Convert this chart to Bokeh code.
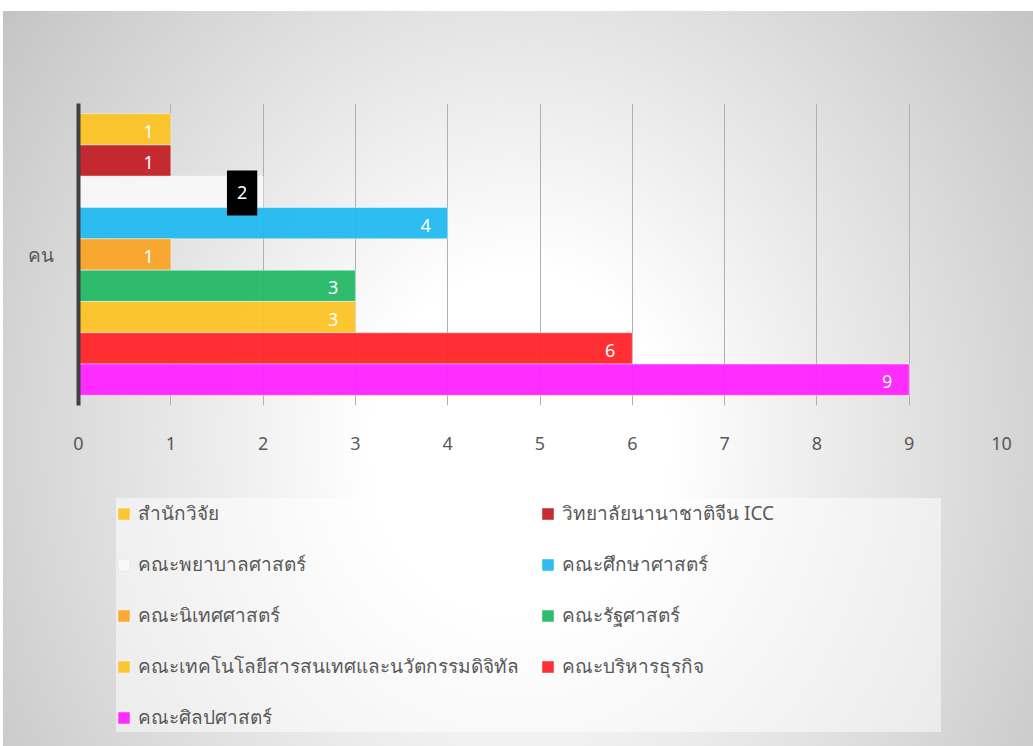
from bokeh.plotting import figure
from bokeh.layouts import column
from bokeh.models import (FactorRange, Range1d, Legend, LegendItem, FixedTicker,
                          ColumnDataSource)
from bokeh.transform import dodge
from bokeh.core.properties import value
from bokeh.embed import file_html
from bokeh.resources import INLINE

category = ["คน"]
series_names = [
    "สำนักวิจัย",
    "วิทยาลัยนานาชาติจีน ICC",
    "คณะพยาบาลศาสตร์",
    "คณะศึกษาศาสตร์",
    "คณะนิเทศศาสตร์",
    "คณะรัฐศาสตร์",
    "คณะเทคโนโลยีสารสนเทศและนวัตกรรมดิจิทัล",
    "คณะบริหารธุรกิจ",
    "คณะศิลปศาสตร์",
]
series_values = [1, 1, 2, 4, 1, 3, 3, 6, 9]
series_colors = ["#FBC325", "#C22026", "#F8F8F8", "#23B9EF", "#F9A326",
                 "#24B866", "#FBC325", "#FF2428", "#FF22FF"]
x_ticks = [0, 1, 2, 3, 4, 5, 6, 7, 8, 9, 10]

FONT = "Noto Sans"
TXT = "#595959"
GRAD = "radial-gradient(ellipse 743px 840px at 520px {cy}px, #ffffff 0%, #ffffff 20%, #b8b8b8 100%)"

# ---------------- main chart ----------------
p = figure(width=1033, height=478,
           x_range=Range1d(0, 10), y_range=FactorRange(factors=category),
           output_backend="svg", toolbar_location=None,
           min_border_left=78, min_border_right=32, min_border_top=103,
           min_border_bottom=73)
p.background_fill_alpha = 0
p.border_fill_alpha = 0
p.outline_line_color = None
p.styles = {"background": (
    "linear-gradient(#ffffff, #ffffff) 0 0 / 100% 11px no-repeat, "
    "linear-gradient(#ffffff, #ffffff) 0 0 / 3px 100% no-repeat, " + GRAD.format(cy=440))}

p.ygrid.grid_line_color = None
p.xgrid.grid_line_color = "#b0b0b0"
p.xgrid.grid_line_width = 1
p.xgrid.ticker = FixedTicker(ticks=x_ticks)

p.xaxis.ticker = FixedTicker(ticks=x_ticks)
p.xaxis.axis_line_color = None
p.xaxis.major_tick_line_color = None
p.xaxis.minor_tick_line_color = None
p.xaxis.major_tick_out = 0
p.xaxis.major_tick_in = 0
p.xaxis.major_label_standoff = 31
p.xaxis.major_label_text_font = FONT
p.xaxis.major_label_text_font_size = "18px"
p.xaxis.major_label_text_color = TXT

p.yaxis.axis_line_color = "#404040"
p.yaxis.axis_line_width = 4
p.yaxis.major_tick_line_color = None
p.yaxis.major_tick_out = 0
p.yaxis.major_label_standoff = 25
p.yaxis.major_label_text_font = FONT
p.yaxis.major_label_text_font_size = "19px"
p.yaxis.major_label_text_color = TXT

n = len(series_names)
bar_h = 0.9327 / n
label_specs = []
for i, (name, val, col) in enumerate(zip(series_names, series_values, series_colors)):
    off = (n - 1) / 2 * bar_h - i * bar_h
    src = ColumnDataSource(dict(y=category, v=[val], t=[str(val)]))
    p.hbar(y=dodge("y", off, range=p.y_range), right="v", left=0, height=bar_h,
           source=src, fill_color=col, fill_alpha=0.95,
           line_color="white", line_alpha=0.45, line_width=1)
    label_specs.append((i, off, src))

for i, off, src in label_specs:
    if i == 2:
        p.text(x="v", y=dodge("y", off, range=p.y_range), text="t", source=src,
               text_align="center", text_baseline="middle", x_offset=-21, y_offset=1,
               text_color="white", text_font=value(FONT), text_font_size="18px",
               background_fill_color="black", padding=(10, 16))
    else:
        p.text(x="v", y=dodge("y", off, range=p.y_range), text="t", source=src,
               text_align="right", text_baseline="middle", x_offset=-17, y_offset=2,
               text_color="white", text_font=value(FONT), text_font_size="18px")

# ---------------- legend strip ----------------
q = figure(width=1033, height=268, x_range=Range1d(0, 10),
           y_range=FactorRange(factors=category),
           output_backend="svg", toolbar_location=None,
           x_axis_location=None, y_axis_location=None,
           min_border=0)
q.background_fill_alpha = 0
q.border_fill_alpha = 0
q.outline_line_color = None
q.grid.visible = False
q.styles = {"background": (
    "linear-gradient(#ffffff, #ffffff) 0 0 / 3px 100% no-repeat, " + GRAD.format(cy=440 - 478))}

legend_renderers = []
for name, val, col in zip(series_names, series_values, series_colors):
    src = ColumnDataSource(dict(y=category, v=[val]))
    r = q.hbar(y="y", right="v", left=0, height=0.5, source=src,
               fill_color=col, fill_alpha=0.95,
               line_color="#dddddd" if col == "#F8F8F8" else "white",
               line_alpha=0.45, line_width=1, visible=False)
    legend_renderers.append(LegendItem(label=name, renderers=[r]))

# legend fills column by column: put even items in column 1, odd in column 2
order = list(range(0, n, 2)) + list(range(1, n, 2))
legend = Legend(items=[legend_renderers[k] for k in order], ncols=2,
                location=(38, 14), margin=0)
legend.label_text_font = FONT
legend.label_text_font_size = "19px"
legend.label_text_color = TXT
legend.glyph_width = 15
legend.glyph_height = 15
legend.label_standoff = 7
legend.label_width = 379
legend.label_height = 24
legend.spacing = 21
legend.padding = 18
legend.background_fill_color = "white"
legend.background_fill_alpha = 0.5
legend.border_line_color = None
q.add_layout(legend, "center")

layout = column(p, q, spacing=0)
open("out.html", "w").write(file_html(layout, INLINE))
